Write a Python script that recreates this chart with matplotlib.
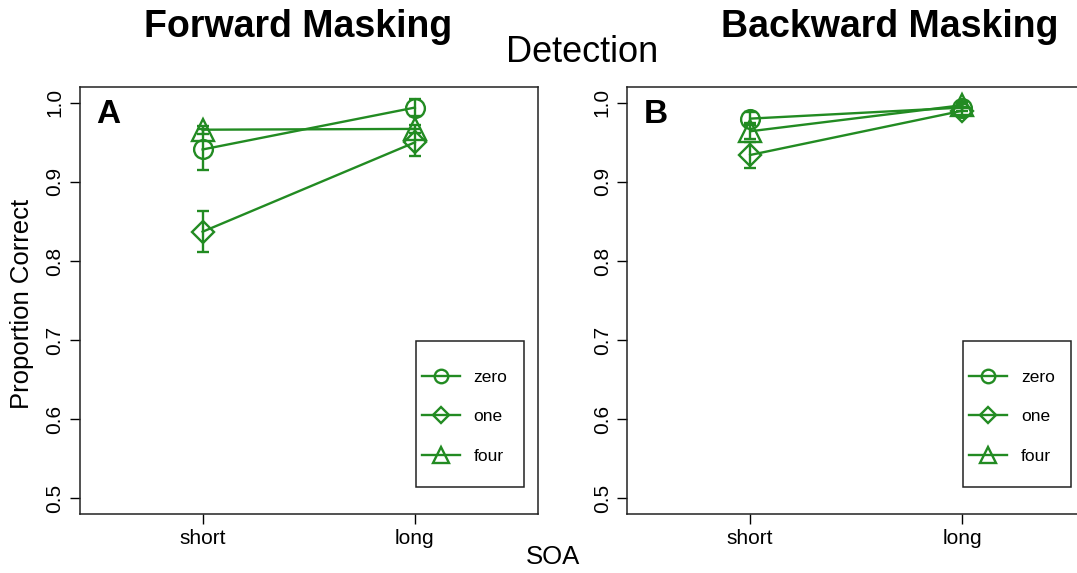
import numpy as np
import matplotlib
matplotlib.use("Agg")
import matplotlib.pyplot as plt
from matplotlib.patches import Rectangle

plt.rcParams.update({"font.family": ["Liberation Sans", "DejaVu Sans"]})

GREEN = "#228B22"

soa = ["short", "long"]
conditions = ["zero", "one", "four"]
markers = {"zero": "o", "one": "D", "four": "^"}
msize = {"zero": 13.5, "one": 11.5, "four": 16}

# forward masking: mean and error half-width per condition (short, long)
fwd_mean = {"zero": [0.941, 0.994], "one": [0.837, 0.950], "four": [0.966, 0.967]}
fwd_err = {"zero": [0.026, 0.011], "one": [0.026, 0.017], "four": [0.005, 0.005]}
# backward masking
bwd_mean = {"zero": [0.980, 0.994], "one": [0.934, 0.990], "four": [0.964, 0.997]}
bwd_err = {"zero": [0.008, 0.004], "one": [0.017, 0.005], "four": [0.010, 0.004]}

W, H = 1077, 573
fig = plt.figure(figsize=(W / 100, H / 100), dpi=100)


def px_axes(x0, y0, x1, y1):
    return fig.add_axes([x0 / W, 1 - y1 / H, (x1 - x0) / W, (y1 - y0) / H])


def panel(ax, means, errs, letter):
    x = np.arange(1, len(soa) + 1)
    handles = []
    for c in conditions:
        ax.errorbar(x, means[c], yerr=errs[c], fmt="none", ecolor=GREEN,
                    elinewidth=1.7, capsize=4.5, capthick=1.7, zorder=2)
        ln, = ax.plot(x, means[c], color=GREEN, lw=1.7, marker=markers[c],
                      ms=msize[c], mfc="none", mec=GREEN, mew=1.7, label=c, zorder=3)
        handles.append(ln)
    ax.set_xlim(0.42, 2.58)
    ax.set_ylim(0.48, 1.02)
    ax.set_xticks(x)
    ax.set_xticklabels(soa)
    ax.set_yticks([0.5, 0.6, 0.7, 0.8, 0.9, 1.0])
    ax.set_yticklabels(["0.5", "0.6", "0.7", "0.8", "0.9", "1.0"], rotation=90,
                       va="center")
    ax.tick_params(labelsize=15, length=7, width=1, direction="out", pad=4)
    for s in ax.spines.values():
        s.set_linewidth(1.1)
        s.set_color("#222222")
    ax.text(0.063, 0.936, letter, transform=ax.transAxes, fontsize=24,
            fontweight="bold", ha="center", va="center")
    ax.add_patch(Rectangle((0.733, 0.063), 0.236, 0.342, transform=ax.transAxes,
                           fill=False, ec="#222222", lw=1.1, zorder=4))
    ax.legend(handles=handles, loc="center", bbox_to_anchor=(0.84, 0.228),
              frameon=False, fontsize=12.5, numpoints=1, markerscale=0.72,
              handlelength=2.2, handletextpad=0.8, labelspacing=1.4)


ax1 = px_axes(79.5, 87, 538, 514)
ax2 = px_axes(627, 87, 1085.5, 514)
panel(ax1, fwd_mean, fwd_err, "A")
panel(ax2, bwd_mean, bwd_err, "B")

fig.text(298 / W, 1 - 27 / H, "Forward Masking", fontsize=27, fontweight="bold",
         ha="center", va="center")
fig.text(890 / W, 1 - 27 / H, "Backward Masking", fontsize=27, fontweight="bold",
         ha="center", va="center")
fig.text(582 / W, 1 - 52 / H, "Detection", fontsize=26, ha="center", va="center")
fig.text(553 / W, 1 - 557 / H, "SOA", fontsize=18.5, ha="center", va="center")
fig.text(22 / W, 1 - 304 / H, "Proportion Correct", fontsize=18.5, rotation=90,
         ha="center", va="center")

fig.savefig("out.png", dpi=100)
